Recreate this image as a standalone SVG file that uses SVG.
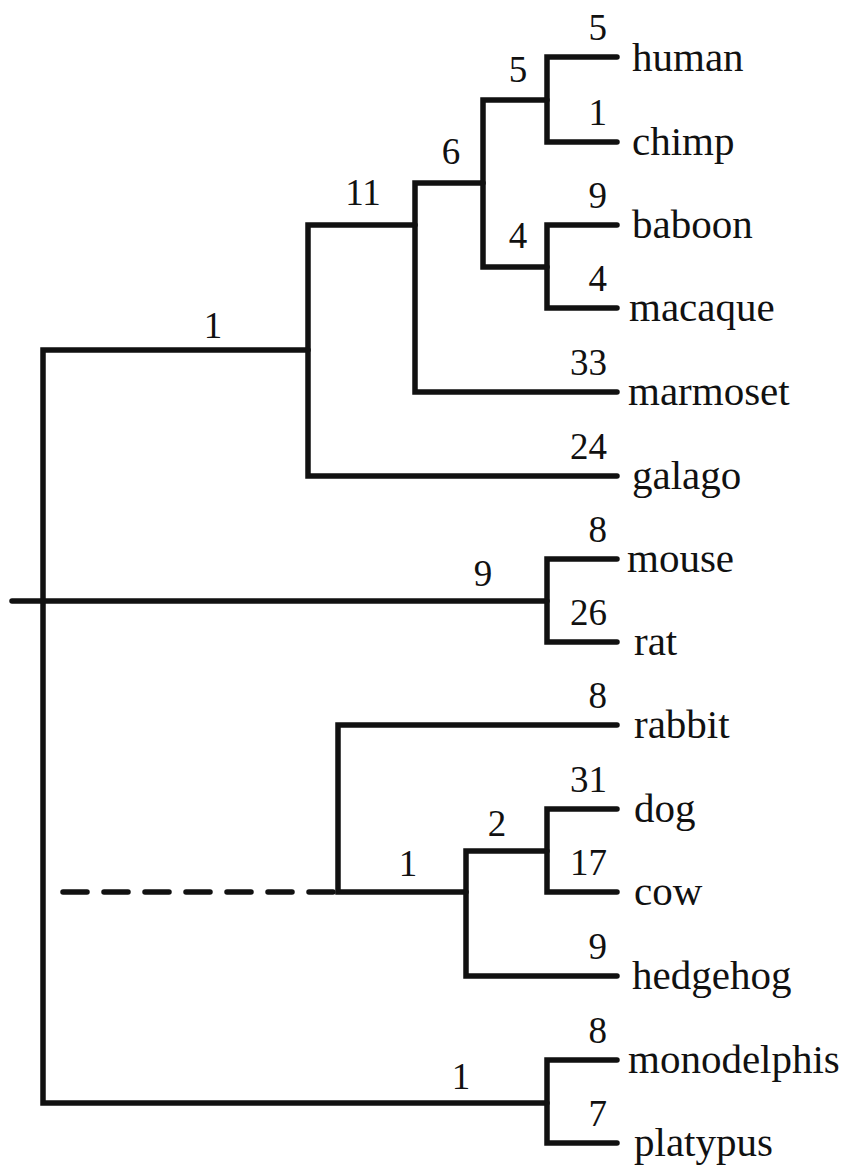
<svg xmlns="http://www.w3.org/2000/svg" width="850" height="1169" viewBox="0 0 850 1169">
<style>
.br{fill:none;stroke:#111;stroke-width:5.5;stroke-linejoin:miter;stroke-linecap:round}
.dash{fill:none;stroke:#111;stroke-width:5.5;stroke-linecap:round;stroke-dasharray:24 17}
.tx{font-size:41px;fill:#111}
.num{font-size:37px;fill:#111}
.le{text-anchor:end}
.mid{text-anchor:middle}
</style>
<rect width="850" height="1169" fill="#fff"/>
<g id="connectors">
<path class="br" d="M308,350 H43 V1103 H547"/>
<path class="br" d="M12,601 H547"/>
<path class="br" d="M617,559 H547 V642 H617"/>
<path class="br" d="M415,225 H308 V476 H617"/>
<path class="br" d="M617,392 H415 V183 H483"/>
<path class="br" d="M547,100 H483 V267 H547"/>
<path class="br" d="M617,57 H547 V142 H617"/>
<path class="br" d="M617,225 H547 V308 H617"/>
<path class="br" d="M617,725 H338 V892 H466"/>
<path class="dash" d="M63,892 H335"/>
<path class="br" d="M547,851 H466 V976 H617"/>
<path class="br" d="M617,809 H547 V892 H617"/>
<path class="br" d="M617,1060 H547 V1143 H617"/>
</g>
<g id="branch-labels" font-family="Liberation Serif, Times New Roman, DejaVu Serif, serif">
<text class="num le" x="607" y="40">5</text>
<text class="num le" x="607" y="125">1</text>
<text class="num le" x="607" y="208">9</text>
<text class="num le" x="607" y="291">4</text>
<text class="num le" x="607" y="375">33</text>
<text class="num le" x="607" y="459">24</text>
<text class="num le" x="607" y="542">8</text>
<text class="num le" x="607" y="625">26</text>
<text class="num le" x="607" y="708">8</text>
<text class="num le" x="607" y="792">31</text>
<text class="num le" x="607" y="875">17</text>
<text class="num le" x="607" y="959">9</text>
<text class="num le" x="607" y="1043">8</text>
<text class="num le" x="607" y="1126">7</text>
<text class="num mid" x="518" y="82">5</text>
<text class="num mid" x="451" y="164">6</text>
<text class="num mid" x="363" y="205">11</text>
<text class="num mid" x="518" y="248">4</text>
<text class="num mid" x="213" y="338">1</text>
<text class="num mid" x="483" y="586">9</text>
<text class="num mid" x="408" y="876">1</text>
<text class="num mid" x="497" y="836">2</text>
<text class="num mid" x="461" y="1089">1</text>
</g>
<g font-family="Liberation Serif, Times New Roman, DejaVu Serif, serif">
<g id="human"><text class="tx" x="632" y="71">human</text></g>
<g id="chimp"><text class="tx" x="632" y="155">chimp</text></g>
<g id="baboon"><text class="tx" x="632" y="238">baboon</text></g>
<g id="macaque"><text class="tx" x="629" y="321">macaque</text></g>
<g id="marmoset"><text class="tx" x="628" y="405">marmoset</text></g>
<g id="galago"><text class="tx" x="632" y="489">galago</text></g>
<g id="mouse"><text class="tx" x="627" y="572">mouse</text></g>
<g id="rat"><text class="tx" x="634" y="655">rat</text></g>
<g id="rabbit"><text class="tx" x="634" y="738">rabbit</text></g>
<g id="dog"><text class="tx" x="634" y="822">dog</text></g>
<g id="cow"><text class="tx" x="634" y="905">cow</text></g>
<g id="hedgehog"><text class="tx" x="632" y="989">hedgehog</text></g>
<g id="monodelphis"><text class="tx" x="628" y="1073">monodelphis</text></g>
<g id="platypus"><text class="tx" x="634" y="1156">platypus</text></g>
</g>
</svg>
